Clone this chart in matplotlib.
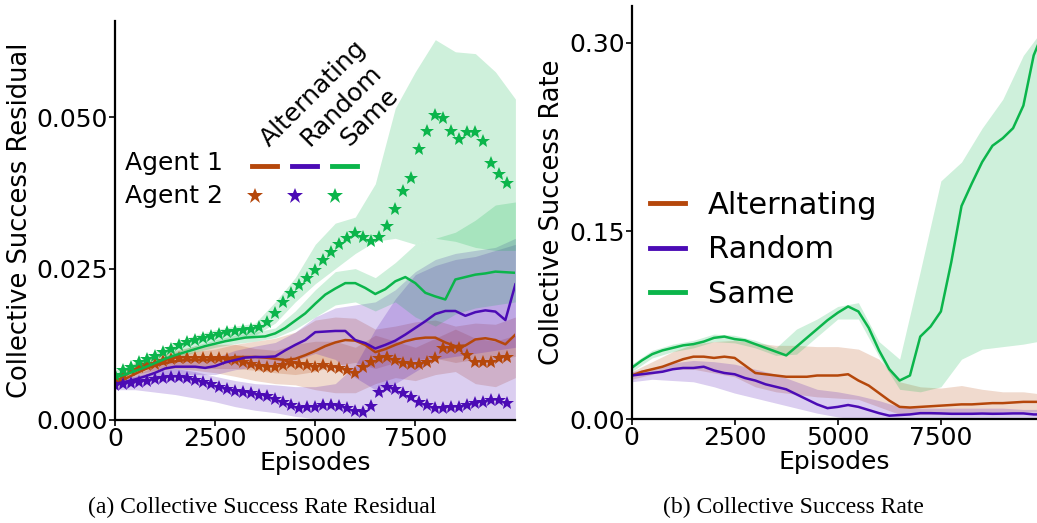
import numpy as np
import matplotlib
matplotlib.use("Agg")
import matplotlib.pyplot as plt
from matplotlib.lines import Line2D

# =========================
# DATA
# =========================
methods = ["Alternating", "Random", "Same"]
colors = ["#B5470B", "#4B0BB5", "#0BB54B"]

ep_line = np.arange(0, 10001, 250)
ep_star = np.arange(0, 10000, 200)
ep_band = np.arange(0, 10001, 500)

# (a) residual, agent 1 (solid lines)
res_a1_alt = [0.0060, 0.0068, 0.0076, 0.0084, 0.0090, 0.0094, 0.0097, 0.0099, 0.0099, 0.0099,
              0.0100, 0.0102, 0.0104, 0.0104, 0.0104, 0.0103, 0.0101, 0.0099, 0.0101, 0.0107,
              0.0114, 0.0122, 0.0128, 0.0132, 0.0131, 0.0124, 0.0112, 0.0117, 0.0124, 0.0130,
              0.0134, 0.0136, 0.0136, 0.0128, 0.0122, 0.0123, 0.0133, 0.0135, 0.0132, 0.0125,
              0.0141]
res_a1_rnd = [0.0060, 0.0063, 0.0067, 0.0072, 0.0078, 0.0085, 0.0088, 0.0088, 0.0088, 0.0086,
              0.0089, 0.0095, 0.0099, 0.0103, 0.0104, 0.0104, 0.0105, 0.0115, 0.0124, 0.0132,
              0.0145, 0.0146, 0.0147, 0.0147, 0.0132, 0.0127, 0.0118, 0.0124, 0.0131, 0.0141,
              0.0152, 0.0163, 0.0175, 0.0180, 0.0180, 0.0172, 0.0178, 0.0181, 0.0179, 0.0165,
              0.0224]
res_a1_same = [0.0070, 0.0075, 0.0081, 0.0087, 0.0094, 0.0101, 0.0107, 0.0112, 0.0117, 0.0122,
               0.0126, 0.0130, 0.0133, 0.0136, 0.0137, 0.0138, 0.0143, 0.0152, 0.0164, 0.0176,
               0.0192, 0.0207, 0.0217, 0.0226, 0.0226, 0.0218, 0.0208, 0.0216, 0.0229, 0.0236,
               0.0226, 0.0210, 0.0204, 0.0199, 0.0232, 0.0236, 0.0240, 0.0242, 0.0245, 0.0244,
               0.0243]

# (a) residual, agent 2 (stars)
res_a2_alt = [0.0066, 0.0075, 0.0083, 0.0087, 0.0090, 0.0093, 0.0097, 0.0101, 0.0103, 0.0103,
              0.0103, 0.0103, 0.0102, 0.0102, 0.0101, 0.0099, 0.0096, 0.0093, 0.0089, 0.0088,
              0.0088, 0.0091, 0.0094, 0.0092, 0.0090, 0.0088, 0.0090, 0.0088, 0.0086, 0.0083,
              0.0078, 0.0088, 0.0096, 0.0103, 0.0104, 0.0099, 0.0094, 0.0093, 0.0093, 0.0096,
              0.0103, 0.0119, 0.0119, 0.0119, 0.0108, 0.0096, 0.0096, 0.0096, 0.0102, 0.0104]
res_a2_rnd = [0.0058, 0.0060, 0.0061, 0.0062, 0.0064, 0.0067, 0.0070, 0.0071, 0.0071, 0.0070,
              0.0066, 0.0062, 0.0059, 0.0055, 0.0051, 0.0048, 0.0046, 0.0044, 0.0042, 0.0039,
              0.0034, 0.0029, 0.0024, 0.0019, 0.0021, 0.0022, 0.0025, 0.0025, 0.0023, 0.0020,
              0.0014, 0.0013, 0.0023, 0.0046, 0.0055, 0.0051, 0.0044, 0.0038, 0.0030, 0.0025,
              0.0020, 0.0020, 0.0022, 0.0022, 0.0025, 0.0028, 0.0030, 0.0033, 0.0033, 0.0028]
res_a2_same = [0.0075, 0.0082, 0.0088, 0.0096, 0.0101, 0.0106, 0.0112, 0.0117, 0.0123, 0.0128,
               0.0132, 0.0136, 0.0139, 0.0142, 0.0145, 0.0147, 0.0148, 0.0150, 0.0153, 0.0162,
               0.0177, 0.0194, 0.0210, 0.0223, 0.0235, 0.0247, 0.0264, 0.0277, 0.0290, 0.0300,
               0.0308, 0.0302, 0.0296, 0.0302, 0.0321, 0.0348, 0.0378, 0.0400, 0.0447, 0.0478,
               0.0503, 0.0498, 0.0477, 0.0464, 0.0475, 0.0475, 0.0460, 0.0424, 0.0406, 0.0392]

# (a) shaded spread, lower / upper
band_a1_alt_lo = [0.0055, 0.0068, 0.0080, 0.0086, 0.0086, 0.0085, 0.0085, 0.0082, 0.0078, 0.0075, 0.0080,
                  0.0090, 0.0095, 0.0085, 0.0095, 0.0100, 0.0102, 0.0095, 0.0100, 0.0100, 0.0105]
band_a1_alt_hi = [0.0066, 0.0085, 0.0100, 0.0108, 0.0113, 0.0117, 0.0125, 0.0130, 0.0135, 0.0145, 0.0165,
                  0.0170, 0.0168, 0.0150, 0.0155, 0.0162, 0.0165, 0.0155, 0.0160, 0.0158, 0.0170]
band_a1_rnd_lo = [0.0055, 0.0060, 0.0068, 0.0075, 0.0075, 0.0075, 0.0083, 0.0088, 0.0088, 0.0098, 0.0110,
                  0.0100, 0.0070, 0.0050, 0.0060, 0.0080, 0.0100, 0.0105, 0.0110, 0.0115, 0.0120]
band_a1_rnd_hi = [0.0066, 0.0075, 0.0088, 0.0098, 0.0100, 0.0103, 0.0115, 0.0122, 0.0128, 0.0145, 0.0170,
                  0.0185, 0.0190, 0.0195, 0.0215, 0.0245, 0.0265, 0.0275, 0.0280, 0.0285, 0.0300]
band_a1_same_lo = [0.0066, 0.0077, 0.0089, 0.0102, 0.0112, 0.0120, 0.0126, 0.0130, 0.0136, 0.0150, 0.0170,
                   0.0190, 0.0195, 0.0180, 0.0195, 0.0170, 0.0155, 0.0175, 0.0185, 0.0190, 0.0195]
band_a1_same_hi = [0.0074, 0.0085, 0.0099, 0.0112, 0.0123, 0.0132, 0.0140, 0.0145, 0.0152, 0.0180, 0.0215,
                   0.0245, 0.0250, 0.0235, 0.0260, 0.0290, 0.0300, 0.0310, 0.0330, 0.0355, 0.0360]
band_a2_alt_lo = [0.0060, 0.0075, 0.0082, 0.0085, 0.0082, 0.0078, 0.0072, 0.0065, 0.0060, 0.0058, 0.0050,
                  0.0045, 0.0045, 0.0060, 0.0070, 0.0065, 0.0075, 0.0080, 0.0060, 0.0055, 0.0070]
band_a2_alt_hi = [0.0072, 0.0095, 0.0105, 0.0115, 0.0122, 0.0125, 0.0125, 0.0118, 0.0115, 0.0125, 0.0130,
                  0.0130, 0.0120, 0.0140, 0.0130, 0.0120, 0.0135, 0.0150, 0.0135, 0.0130, 0.0140]
band_a2_rnd_lo = [0.0050, 0.0050, 0.0046, 0.0042, 0.0036, 0.0030, 0.0022, 0.0016, 0.0012, 0.0006, 0.0002,
                  0.0000, 0.0000, 0.0000, 0.0000, 0.0000, 0.0000, 0.0000, 0.0000, 0.0000, 0.0000]
band_a2_rnd_hi = [0.0068, 0.0072, 0.0080, 0.0085, 0.0080, 0.0072, 0.0065, 0.0060, 0.0058, 0.0055, 0.0055,
                  0.0060, 0.0090, 0.0150, 0.0200, 0.0240, 0.0255, 0.0265, 0.0270, 0.0280, 0.0290]
band_a2_same_lo = [0.0068, 0.0080, 0.0097, 0.0110, 0.0121, 0.0130, 0.0136, 0.0140, 0.0160, 0.0195, 0.0225,
                   0.0250, 0.0275, 0.0295, 0.0300, 0.0290, 0.0300, 0.0295, 0.0285, 0.0280, 0.0280]
band_a2_same_hi = [0.0082, 0.0095, 0.0113, 0.0128, 0.0140, 0.0149, 0.0155, 0.0160, 0.0195, 0.0235, 0.0290,
                   0.0325, 0.0335, 0.0390, 0.0515, 0.0575, 0.0628, 0.0608, 0.0605, 0.0575, 0.0530]

# (b) collective success rate
rate_alt = [0.035, 0.038, 0.040, 0.042, 0.045, 0.048, 0.050, 0.050, 0.049, 0.050,
            0.049, 0.043, 0.037, 0.036, 0.035, 0.034, 0.034, 0.034, 0.035, 0.035,
            0.035, 0.036, 0.031, 0.027, 0.021, 0.015, 0.010, 0.0095, 0.010, 0.0105,
            0.011, 0.0115, 0.012, 0.012, 0.0125, 0.013, 0.013, 0.0135, 0.014, 0.014,
            0.014]
rate_rnd = [0.035, 0.036, 0.037, 0.038, 0.040, 0.041, 0.041, 0.042, 0.039, 0.037,
            0.036, 0.033, 0.031, 0.028, 0.026, 0.024, 0.020, 0.016, 0.012, 0.009,
            0.010, 0.0115, 0.010, 0.0075, 0.005, 0.003, 0.0035, 0.004, 0.005, 0.005,
            0.0048, 0.0045, 0.0045, 0.0045, 0.0047, 0.0045, 0.0046, 0.0048, 0.0048, 0.004,
            0.004]
rate_same = [0.041, 0.047, 0.052, 0.055, 0.057, 0.059, 0.060, 0.062, 0.065, 0.066,
             0.064, 0.063, 0.060, 0.057, 0.054, 0.051, 0.058, 0.065, 0.072, 0.079,
             0.085, 0.090, 0.086, 0.073, 0.055, 0.040, 0.031, 0.035, 0.066, 0.074,
             0.086, 0.125, 0.170, 0.188, 0.205, 0.218, 0.224, 0.232, 0.250, 0.290,
             0.310]
rate_alt_lo = [0.032, 0.036, 0.040, 0.040, 0.037, 0.034, 0.026, 0.022, 0.020, 0.018, 0.017,
               0.016, 0.010, 0.004, 0.004, 0.004, 0.005, 0.005, 0.006, 0.006, 0.006]
rate_alt_hi = [0.038, 0.046, 0.054, 0.060, 0.062, 0.063, 0.061, 0.059, 0.059, 0.058, 0.058,
               0.056, 0.048, 0.030, 0.026, 0.025, 0.027, 0.024, 0.022, 0.022, 0.020]
rate_rnd_lo = [0.030, 0.032, 0.031, 0.030, 0.026, 0.021, 0.017, 0.013, 0.009, 0.005, 0.002,
               0.000, 0.000, 0.000, 0.000, 0.000, 0.000, 0.000, 0.000, 0.000, 0.000]
rate_rnd_hi = [0.038, 0.041, 0.045, 0.047, 0.046, 0.044, 0.040, 0.036, 0.030, 0.024, 0.022,
               0.019, 0.015, 0.010, 0.009, 0.009, 0.009, 0.009, 0.009, 0.008, 0.008]
rate_same_lo = [0.038, 0.049, 0.054, 0.057, 0.062, 0.061, 0.057, 0.051, 0.052, 0.066, 0.080,
                0.080, 0.050, 0.024, 0.022, 0.026, 0.048, 0.056, 0.058, 0.060, 0.063]
rate_same_hi = [0.044, 0.055, 0.060, 0.063, 0.068, 0.067, 0.063, 0.057, 0.072, 0.080, 0.090,
                0.093, 0.062, 0.048, 0.118, 0.190, 0.205, 0.232, 0.255, 0.290, 0.312]

# =========================
# FIGURE
# =========================
plt.rcParams["font.family"] = "DejaVu Sans"
FS = 18

fig = plt.figure(figsize=(10.37, 5.23), dpi=100)
ax1 = fig.add_axes([0.111, 0.197, 0.386, 0.763])
ax2 = fig.add_axes([0.609, 0.198, 0.391, 0.791])

for ax in (ax1, ax2):
    for s in ("top", "right"):
        ax.spines[s].set_visible(False)
    for s in ("left", "bottom"):
        ax.spines[s].set_linewidth(1.6)
    ax.tick_params(labelsize=FS, width=1.2, length=4, pad=1)
    ax.set_xticks([0, 2500, 5000, 7500])
    ax.set_xlabel("Episodes", fontsize=FS, labelpad=0)

# =========================
# (a) RESIDUAL
# =========================
bands_a = [
    (band_a1_alt_lo, band_a1_alt_hi, band_a2_alt_lo, band_a2_alt_hi),
    (band_a1_rnd_lo, band_a1_rnd_hi, band_a2_rnd_lo, band_a2_rnd_hi),
    (band_a1_same_lo, band_a1_same_hi, band_a2_same_lo, band_a2_same_hi),
]
lines_a1 = [res_a1_alt, res_a1_rnd, res_a1_same]
stars_a2 = [res_a2_alt, res_a2_rnd, res_a2_same]

for c, (l1, h1, l2, h2) in zip(colors, bands_a):
    ax1.fill_between(ep_band, l1, h1, color=c, alpha=0.2, linewidth=0)
    ax1.fill_between(ep_band, l2, h2, color=c, alpha=0.2, linewidth=0)

for c, y1, y2 in zip(colors, lines_a1, stars_a2):
    ax1.plot(ep_line, y1, color=c, lw=1.8)
    ax1.plot(ep_star, y2, color=c, ls="none", marker="*", ms=10, mew=0)

ax1.set_xlim(0, 10000)
ax1.set_ylim(0, 0.0659)
ax1.set_yticks([0.0, 0.025, 0.050])
ax1.set_yticklabels(["0.000", "0.025", "0.050"])
ax1.set_ylabel("Collective Success Residual", fontsize=18.5)
ax1.yaxis.set_label_coords(-0.205, 0.5)

# hand-made legend: rows = agents, columns = methods
ax1.text(0.025, 0.644, "Agent 1", transform=ax1.transAxes, fontsize=FS, va="center")
ax1.text(0.025, 0.561, "Agent 2", transform=ax1.transAxes, fontsize=FS, va="center")
col_x = [0.405, 0.505, 0.605]
for c, m, cx in zip(colors, methods, col_x):
    ax1.add_line(Line2D([cx - 0.0625, cx], [0.637, 0.637], transform=ax1.transAxes,
                        color=c, lw=3.5))
    ax1.plot([cx - 0.055], [0.561], transform=ax1.transAxes, color=c,
             marker="*", ms=12, mew=0, ls="none")
    ax1.text(cx - 0.02, 0.684, m, transform=ax1.transAxes, fontsize=FS,
             rotation=45, rotation_mode="anchor", ha="left", va="baseline")

# =========================
# (b) SUCCESS RATE
# =========================
rates = [rate_alt, rate_rnd, rate_same]
rate_bands = [(rate_alt_lo, rate_alt_hi), (rate_rnd_lo, rate_rnd_hi), (rate_same_lo, rate_same_hi)]

for c, (lo, hi) in zip(colors, rate_bands):
    ax2.fill_between(ep_band, lo, hi, color=c, alpha=0.2, linewidth=0)
for c, m, y in zip(colors, methods, rates):
    ax2.plot(ep_line, y, color=c, lw=1.8, label=m)

ax2.set_xlim(0, 9830)
ax2.set_ylim(0, 0.3295)
ax2.set_yticks([0.0, 0.15, 0.30])
ax2.set_yticklabels(["0.00", "0.15", "0.30"])
ax2.set_ylabel("Collective Success Rate", fontsize=18.5)
ax2.yaxis.set_label_coords(-0.165, 0.5)

leg = ax2.legend(loc="center left", bbox_to_anchor=(0.015, 0.41), frameon=False,
                 fontsize=22, handlelength=1.15, handletextpad=0.75,
                 labelspacing=0.5, borderaxespad=0)
for h in leg.get_lines():
    h.set_linewidth(3.5)

# =========================
# CAPTIONS
# =========================
fig.text(0.253, 0.03, "(a) Collective Success Rate Residual", ha="center", va="center",
         fontsize=17, family="Liberation Serif")
fig.text(0.765, 0.03, "(b) Collective Success Rate", ha="center", va="center",
         fontsize=17, family="Liberation Serif")

fig.savefig("out.png", dpi=100)
